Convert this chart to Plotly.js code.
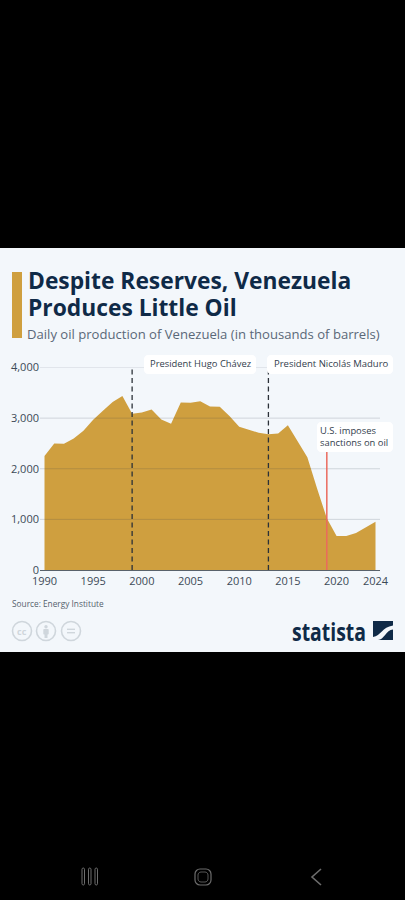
<!DOCTYPE html>
<html><head><meta charset="utf-8">
<script src="https://cdn.plot.ly/plotly-3.0.1.min.js"></script>
<style>html,body{margin:0;padding:0;background:#000}#c{width:405px;height:900px}</style>
</head><body><div id="c"></div>
<script>
const years=[1990,1991,1992,1993,1994,1995,1996,1997,1998,1999,2000,2001,2002,2003,2004,2005,2006,2007,2008,2009,2010,2011,2012,2013,2014,2015,2016,2017,2018,2019,2020,2021,2022,2023,2024];
const production=[2250,2500,2495,2600,2750,2970,3145,3320,3435,3085,3110,3170,2975,2890,3310,3305,3335,3230,3225,3040,2830,2765,2710,2680,2695,2860,2555,2225,1610,1020,670,670,730,850,955];
const xTicks=[1990,1995,2000,2005,2010,2015,2020,2024];
const yTicks=[0,1000,2000,3000,4000];
const presidents=[1999,2013];
const sanctionYear=[2019];
const titleLines=['Despite Reserves, Venezuela','Produces Little Oil'];
const subtitle='Daily oil production of Venezuela (in thousands of barrels)';
const source='Source: Energy Institute';
const labels=['President Hugo Chávez','President Nicolás Maduro','U.S. imposes<br>sanctions on oil'];

const W=405,H=900;
const px=x=>x/W, py=y=>1-y/H;
const NAVY='#0f2a47',GOLD='#cf9f3f',ICON='#cfd6dc';
function poly(pts,close){return 'M'+pts.map(p=>px(p[0])+','+py(p[1])).join(' L')+(close?' Z':'');}
function rrect(x0,y0,x1,y1,r){
  const k=0.45*r,s=(x,y)=>px(x)+','+py(y);
  return 'M'+s(x0+r,y0)+' L'+s(x1-r,y0)+' C'+s(x1-k,y0)+' '+s(x1,y0+k)+' '+s(x1,y0+r)+
   ' L'+s(x1,y1-r)+' C'+s(x1,y1-k)+' '+s(x1-k,y1)+' '+s(x1-r,y1)+
   ' L'+s(x0+r,y1)+' C'+s(x0+k,y1)+' '+s(x0,y1-k)+' '+s(x0,y1-r)+
   ' L'+s(x0,y0+r)+' C'+s(x0,y0+k)+' '+s(x0+k,y0)+' '+s(x0+r,y0)+' Z';
}
const pshape=(path,fill,line,w,layer)=>({type:'path',xref:'paper',yref:'paper',path,fillcolor:fill||'rgba(0,0,0,0)',line:{color:line||'rgba(0,0,0,0)',width:w||0},layer:layer||'above'});
const circ=(cx,cy,r,line,w)=>({type:'circle',xref:'paper',yref:'paper',x0:px(cx-r),x1:px(cx+r),y0:py(cy+r),y1:py(cy-r),line:{color:line,width:w},fillcolor:'rgba(0,0,0,0)',layer:'above'});

const shapes=[
  pshape(poly([[0,248],[405,248],[405,652],[0,652]],true),'#f3f7fb',null,0,'below'),
  pshape(poly([[12,272],[22,272],[22,338],[12,338]],true),GOLD,null,0,'below'),
];
yTicks.filter(v=>v>0).forEach(v=>shapes.push({type:'line',xref:'paper',yref:'y',x0:px(40),x1:px(380),y0:v,y1:v,line:{color:'rgba(50,60,80,0.18)',width:1},layer:'above'}));
presidents.forEach(v=>shapes.push({type:'line',xref:'x',yref:'y',x0:v,x1:v,y0:0,y1:4000,line:{color:'#2b3138',width:1.3,dash:'5px,3.5px'},layer:'above'}));
sanctionYear.forEach(v=>shapes.push({type:'line',xref:'x',yref:'paper',x0:v,x1:v,y0:py(570),y1:py(452),line:{color:'#ea6a5e',width:1.5},layer:'above'}));
shapes.push(
  pshape(rrect(144,355,256,374,4),'#ffffff'),
  pshape(rrect(267,355,393,374,4),'#ffffff'),
  pshape(rrect(317,422,393,452,4),'#ffffff'),
  // licence icons
  circ(22,631,9.5,ICON,1.6),circ(46,631,9.5,ICON,1.6),circ(71,631,9.5,ICON,1.6),
  {type:'circle',xref:'paper',yref:'paper',x0:px(44.3),x1:px(47.7),y0:py(628.4),y1:py(625),fillcolor:ICON,line:{width:0},layer:'above'},
  pshape(rrect(43.3,629,48.7,634.5,1),ICON),
  pshape(poly([[44.5,634],[47.5,634],[47.5,638],[44.5,638]],true),ICON),
  pshape(poly([[67,628.6],[75,628.6],[75,630],[67,630]],true),ICON),
  pshape(poly([[67,632],[75,632],[75,633.4],[67,633.4]],true),ICON),
  // statista mark
  pshape(poly([[373,621],[393,621],[393,640],[373,640]],true),NAVY),
  pshape('M'+px(373)+','+py(637)+' C'+px(381)+','+py(636)+' '+px(382)+','+py(627)+' '+px(393)+','+py(625.5)+' L'+px(393)+','+py(629.5)+' C'+px(386)+','+py(630)+' '+px(384)+','+py(640)+' '+px(378)+','+py(640)+' L'+px(373)+','+py(640)+' Z','#f3f7fb'),
  // navigation bar
  pshape(rrect(82,868,84.5,885,1.2),null,'#6d6d6d',1),
  pshape(rrect(88.5,868,91,885,1.2),null,'#6d6d6d',1),
  pshape(rrect(95,868,97.5,885,1.2),null,'#6d6d6d',1),
  pshape(rrect(195,869,211,885,5),null,'#6d6d6d',1.2),
  pshape(rrect(198,872,208,882,3),null,'#6d6d6d',0.8),
  pshape(poly([[321,869],[312,877],[321,885]],false),null,'#6d6d6d',1.6)
);

const tx=(text,x,y,size,color,opts)=>Object.assign({xref:'paper',yref:'paper',x:px(x),y:py(y),text,showarrow:false,xanchor:'left',yanchor:'middle',align:'left',font:{family:'"Open Sans",sans-serif',size,color}},opts||{});
const annotations=[
  tx(titleLines[0],26,281,22.8,NAVY,{font:{family:'"Open Sans",sans-serif',size:22.8,color:NAVY,weight:700}}),
  tx(titleLines[1],26,307.5,22.8,NAVY,{font:{family:'"Open Sans",sans-serif',size:22.8,color:NAVY,weight:700}}),
  tx(subtitle,25,334,13.1,'#5a6878'),
  tx(labels[0],147.5,364,9.4,'#33404d'),
  tx(labels[1],272,364,9.5,'#33404d'),
  tx(labels[2],317.5,437,9.4,'#33404d'),
  tx(source,10,603,8.3,'#55616d'),
  tx('statista',290,630.5,25,NAVY,{font:{family:'"Open Sans",sans-serif',size:25,color:NAVY,weight:700}}),
  tx('cc',22,631,9,ICON,{xanchor:'center',font:{family:'"Open Sans",sans-serif',size:9,color:ICON,weight:700}})
];

const pxPerYear=(375.5-44.5)/34;
const trace={x:years,y:production,type:'scatter',mode:'lines',line:{width:0,color:GOLD},fill:'tozeroy',fillcolor:GOLD,hoverinfo:'skip'};
const layout={
  width:W,height:H,margin:{l:0,r:0,t:0,b:0,autoexpand:false},
  paper_bgcolor:'#000000',plot_bgcolor:'rgba(0,0,0,0)',showlegend:false,
  xaxis:{domain:[px(40),px(380)],range:[1990-4.5/pxPerYear,2024+4.5/pxPerYear],tickmode:'array',tickvals:xTicks,ticktext:xTicks.map(String),ticks:'',ticklabelstandoff:1,showgrid:false,zeroline:false,showline:true,linecolor:'#59626b',linewidth:1,tickfont:{family:'"Open Sans",sans-serif',size:11,color:'#3c4a57'},anchor:'y'},
  yaxis:{domain:[py(570),py(367.5)],range:[0,4000],tickmode:'array',tickvals:yTicks,tickformat:',',ticks:'',showgrid:false,zeroline:false,showline:false,tickfont:{family:'"Open Sans",sans-serif',size:11,color:'#3c4a57'},anchor:'x'},
  shapes,annotations
};
Plotly.newPlot('c',[trace],layout,{displayModeBar:false,staticPlot:true}).then(gd=>{
  // condense the logotype to the reference's narrow lettering
  gd.querySelectorAll('.annotation-text').forEach(t=>{
    if(t.textContent==='statista'){t.setAttribute('textLength','74');t.setAttribute('lengthAdjust','spacingAndGlyphs');}
  });
});
</script></body></html>
